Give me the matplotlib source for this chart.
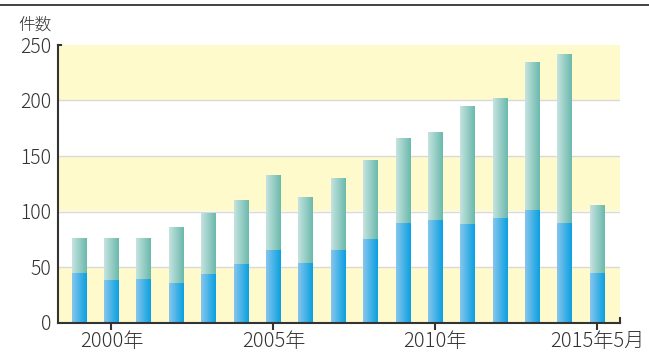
import numpy as np
import matplotlib.pyplot as plt
from matplotlib.lines import Line2D
from matplotlib.colors import LinearSegmentedColormap

plt.rcParams['font.family'] = ['Noto Sans CJK JP', 'DejaVu Sans']
plt.rcParams['font.weight'] = 'light'

# 年ごとの件数（下段・合計）
years = list(range(1999, 2016))
lower = [45, 38, 39, 36, 44, 53, 65, 54, 65, 75, 90, 92, 89, 94, 101, 90, 45]
total = [76, 76, 76, 86, 99, 110, 133, 113, 130, 146, 166, 172, 195, 202, 235, 242, 106]
upper = [t - l for t, l in zip(total, lower)]
tick_years = [2000, 2005, 2010, 2015]
tick_labels = ["2000年", "2005年", "2010年", "2015年5月"]

fig = plt.figure(figsize=(6.49, 3.52), dpi=100)
ax = fig.add_axes([58 / 649, 1 - 322.5 / 352, (620 - 58) / 649, (322.5 - 45) / 352])

x = np.arange(len(years))
# 背景の帯
for lo, hi in [(0, 50), (100, 150), (200, 250)]:
    ax.axhspan(lo, hi, color="#fffacc", zorder=0, lw=0)
for g in [50, 100, 150, 200]:
    ax.axhline(g, color="#d9d9d9", lw=1, zorder=1)

cm_blue = LinearSegmentedColormap.from_list("b", ["#86c6ee", "#0aa0e0"])
cm_teal = LinearSegmentedColormap.from_list("t", ["#c6e4e0", "#6ab8ac"])
grad = np.linspace(0, 1, 64).reshape(1, -1)

b1 = ax.bar(x, lower, width=0.46, color="none", zorder=2)
b2 = ax.bar(x, upper, bottom=lower, width=0.46, color="none", zorder=2)
for bars, cm in [(b1, cm_blue), (b2, cm_teal)]:
    for p in bars:
        x0, y0 = p.get_x(), p.get_y()
        im = ax.imshow(grad, cmap=cm, extent=[x0, x0 + p.get_width(), y0, y0 + p.get_height()],
                       aspect="auto", zorder=2, interpolation="bilinear")
        im.set_clip_path(p)

ax.set_xlim(-0.65, 16.7)
ax.set_ylim(0, 250)
ax.set_yticks([0, 50, 100, 150, 200, 250])
ax.set_xticks([years.index(y) for y in tick_years])
ax.set_xticklabels(tick_labels)
ax.tick_params(axis="y", length=0, pad=5, labelsize=14, labelcolor="#333333")
ax.tick_params(axis="x", length=5, width=1.5, color="#333333", pad=1, labelsize=14.5, labelcolor="#333333")
for s in ["top", "right"]:
    ax.spines[s].set_visible(False)
for s in ["left", "bottom"]:
    ax.spines[s].set_color("#333333")
    ax.spines[s].set_linewidth(1.5)

# 軸端の小さな目盛り
ax.plot([0, 0.006], [1, 1], transform=ax.transAxes, color="#333333", lw=1.5, clip_on=False)
ax.plot([1, 1], [0, 0.015], transform=ax.transAxes, color="#333333", lw=1.5, clip_on=False)

fig.text(18 / 649, 1 - 25 / 352, "件数", fontsize=12, color="#333333", va="center")
fig.add_artist(Line2D([0, 1], [1 - 5 / 352, 1 - 5 / 352], color="#222222", lw=1.2))

fig.savefig("out.png", dpi=100)
